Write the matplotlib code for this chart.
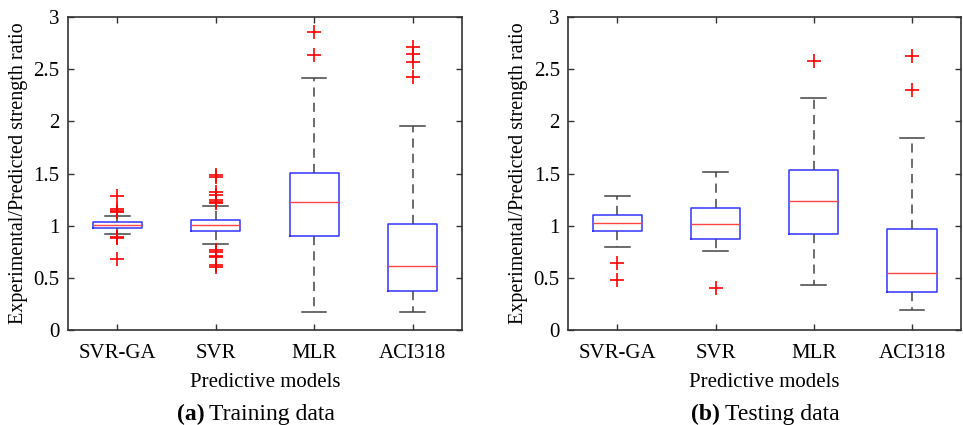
import matplotlib.pyplot as plt

plt.rcParams["font.family"] = ["Liberation Serif", "DejaVu Serif"]

# ==========================================================
#   Datos (cocientes experimental/predicho)
# ==========================================================

modelos = ["SVR-GA", "SVR", "MLR", "ACI318"]

# (a) Training data
train_med = [1.004, 1.010, 1.228, 0.611]
train_q1 = [0.979, 0.950, 0.899, 0.371]
train_q3 = [1.033, 1.052, 1.509, 1.020]
train_wlo = [0.918, 0.822, 0.169, 0.176]
train_whi = [1.097, 1.190, 2.418, 1.960]
train_out = [
    [1.280, 1.158, 1.145, 1.132, 0.895, 0.886, 0.684],
    [1.487, 1.471, 1.327, 1.295, 1.247, 1.231, 1.215,
     0.768, 0.751, 0.710, 0.697, 0.624, 0.608],
    [2.856, 2.635],
    [2.709, 2.648, 2.568, 2.421],
]

# (b) Testing data
test_med = [1.023, 1.020, 1.238, 0.549]
test_q1 = [0.950, 0.873, 0.918, 0.363]
test_q3 = [1.107, 1.171, 1.537, 0.966]
test_wlo = [0.796, 0.754, 0.433, 0.196]
test_whi = [1.287, 1.511, 2.223, 1.845]
test_out = [
    [0.645, 0.481],
    [0.404],
    [2.576],
    [2.631, 2.300],
]


def armar_stats(med, q1, q3, wlo, whi, out):
    """Arma la lista de diccionarios que necesita ax.bxp."""
    stats = []
    for i in range(len(med)):
        stats.append({"med": med[i], "q1": q1[i], "q3": q3[i],
                      "whislo": wlo[i], "whishi": whi[i], "fliers": out[i]})
    return stats


def graficar_caja(ax, stats):
    ax.bxp(stats, positions=[1, 2, 3, 4], widths=0.5, showfliers=True,
           boxprops=dict(color="#3333ff", linewidth=1.1),
           medianprops=dict(color="#ff4444", linewidth=1.0),
           whiskerprops=dict(color="#444444", linewidth=1.1, linestyle=(0, (6, 4))),
           capprops=dict(color="#444444", linewidth=1.1),
           capwidths=0.25,
           flierprops=dict(marker="+", markeredgecolor="red", markersize=10,
                           markeredgewidth=1.2, linestyle="none"))
    ax.set_xlim(0.5, 4.5)
    ax.set_ylim(0, 3)
    ax.set_yticks([0, 0.5, 1, 1.5, 2, 2.5, 3])
    ax.set_yticklabels(["0", "0.5", "1", "1.5", "2", "2.5", "3"])
    ax.set_xticks([1, 2, 3, 4])
    ax.set_xticklabels(modelos)
    ax.tick_params(direction="in", top=True, right=True, length=4,
                   width=1.0, labelsize=15, color="#333333", pad=6)
    ax.tick_params(axis="x", pad=10)
    for s in ax.spines.values():
        s.set_linewidth(1.2)
        s.set_color("#333333")
    ax.set_xlabel("Predictive models", fontsize=15, labelpad=7)
    ax.set_ylabel("Experimental/Predicted strength ratio", fontsize=14.5, labelpad=4)


fig = plt.figure(figsize=(9.63, 4.25), dpi=100)
ax1 = fig.add_axes([0.0706, 0.2235, 0.409, 0.7365])
ax2 = fig.add_axes([0.590, 0.2235, 0.408, 0.7365])

graficar_caja(ax1, armar_stats(train_med, train_q1, train_q3, train_wlo, train_whi, train_out))
graficar_caja(ax2, armar_stats(test_med, test_q1, test_q3, test_wlo, test_whi, test_out))

# Títulos tipo pie de figura
fig.text(0.212, 0.024, "(a)", fontsize=17, fontweight="bold", ha="right", va="center")
fig.text(0.217, 0.024, "Training data", fontsize=17, ha="left", va="center")
fig.text(0.748, 0.024, "(b)", fontsize=17, fontweight="bold", ha="right", va="center")
fig.text(0.753, 0.024, "Testing data", fontsize=17, ha="left", va="center")

fig.savefig("out.png", dpi=100)
plt.close(fig)
